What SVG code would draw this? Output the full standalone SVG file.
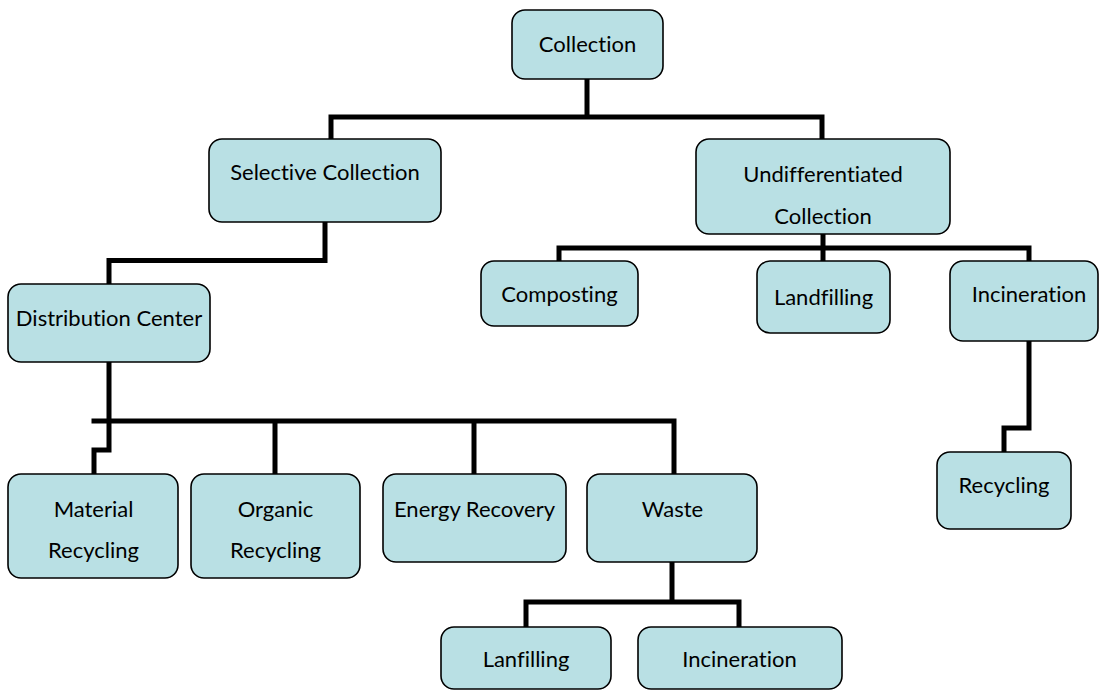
<svg xmlns="http://www.w3.org/2000/svg" width="1100" height="691" viewBox="0 0 1100 691">
<style>
.box{fill:#B9E0E4;stroke:#000;stroke-width:1.6}
.t{font-family:Lato,"Liberation Sans",sans-serif;font-size:22px;fill:#000;text-anchor:middle;font-variant-ligatures:none}
.c{fill:none;stroke:#000;stroke-width:5;stroke-linejoin:miter;stroke-linecap:square}
</style>
<rect width="1100" height="691" fill="#fff"/>
<g id="connectors">
<path class="c" d="M587,79 V117 M331,139 V117 H822 V139"/>
<path class="c" d="M325,222 V260.5 H109 V284"/>
<path class="c" d="M109,362 V450 H94 V474 M94,421 H674 V474 M275,421 V474 M474,421 V474"/>
<path class="c" d="M672,562 V602 M526,627 V602 H739 V627"/>
<path class="c" d="M823,234 V261 M559,261 V248 H1029 V261"/>
<path class="c" d="M1029,341 V428 H1004 V452"/>
</g>
<g id="n-collection"><rect class="box" x="512" y="10" width="151" height="69" rx="13"/><text class="t" x="587.5" y="52">Collection</text></g>
<g id="n-selective"><rect class="box" x="209" y="139" width="232" height="83" rx="13"/><text class="t" x="325" y="180">Selective Collection</text></g>
<g id="n-undiff"><rect class="box" x="696" y="139" width="254" height="95" rx="13"/><text class="t" x="823" y="182">Undifferentiated</text><text class="t" x="823" y="224">Collection</text></g>
<g id="n-composting"><rect class="box" x="481" y="261" width="157" height="65" rx="13"/><text class="t" x="559.5" y="302">Composting</text></g>
<g id="n-landfilling"><rect class="box" x="757" y="261" width="133" height="72" rx="13"/><text class="t" x="823.5" y="305">Landfilling</text></g>
<g id="n-incineration1"><rect class="box" x="950" y="261" width="148" height="80" rx="13"/><text class="t" x="1029" y="302">Incineration</text></g>
<g id="n-distribution"><rect class="box" x="8" y="284" width="202" height="78" rx="13"/><text class="t" x="109" y="326">Distribution Center</text></g>
<g id="n-recycling"><rect class="box" x="937" y="452" width="134" height="77" rx="13"/><text class="t" x="1004" y="493">Recycling</text></g>
<g id="n-material"><rect class="box" x="8" y="474" width="170" height="104" rx="13"/><text class="t" x="93.5" y="517">Material</text><text class="t" x="93.5" y="558">Recycling</text></g>
<g id="n-organic"><rect class="box" x="191" y="474" width="169" height="104" rx="13"/><text class="t" x="275.5" y="517">Organic</text><text class="t" x="275.5" y="558">Recycling</text></g>
<g id="n-energy"><rect class="box" x="383" y="474" width="183" height="88" rx="13"/><text class="t" x="474.5" y="517">Energy Recovery</text></g>
<g id="n-waste"><rect class="box" x="587" y="474" width="170" height="88" rx="13"/><text class="t" x="672.5" y="517">Waste</text></g>
<g id="n-lanfilling"><rect class="box" x="441" y="627" width="170" height="62" rx="13"/><text class="t" x="526" y="667">Lanfilling</text></g>
<g id="n-incineration2"><rect class="box" x="638" y="627" width="204" height="62" rx="13"/><text class="t" x="739.5" y="667">Incineration</text></g>
</svg>
